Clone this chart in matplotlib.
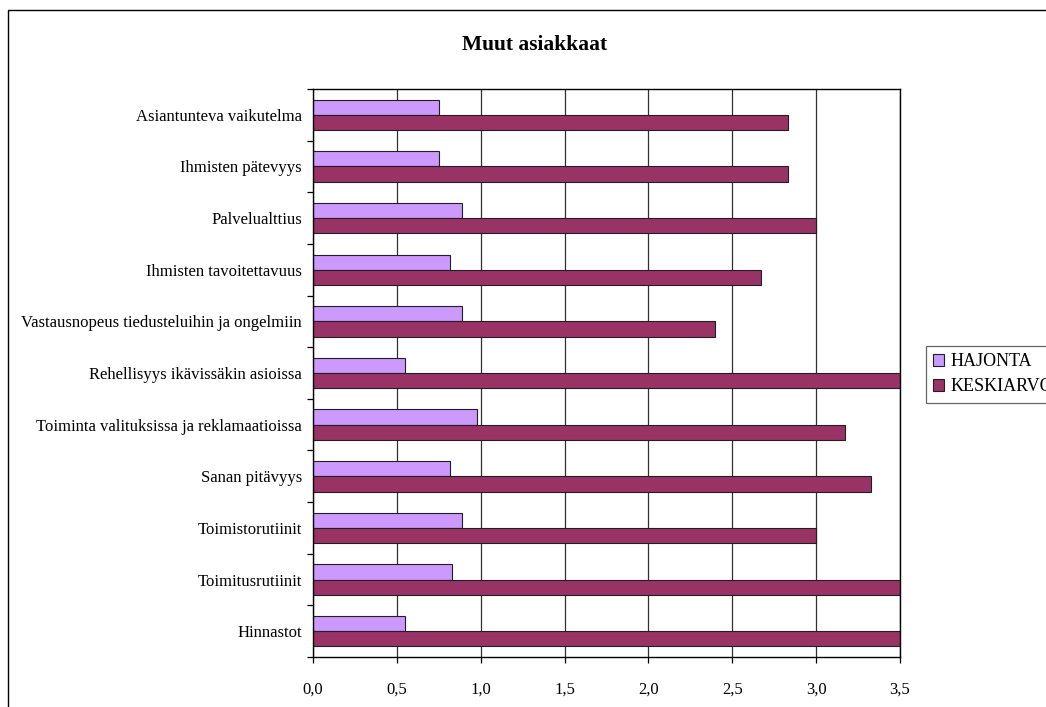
import numpy as np
import matplotlib.pyplot as plt
from matplotlib.patches import Rectangle

plt.rcParams['font.family'] = ['Liberation Serif', 'DejaVu Serif']

categories = ['Asiantunteva vaikutelma', 'Ihmisten pätevyys', 'Palvelualttius',
              'Ihmisten tavoitettavuus', 'Vastausnopeus tiedusteluihin ja ongelmiin',
              'Rehellisyys ikävissäkin asioissa', 'Toiminta valituksissa ja reklamaatioissa',
              'Sanan pitävyys', 'Toimistorutiinit', 'Toimitusrutiinit', 'Hinnastot']
hajonta = [0.75, 0.75, 0.89, 0.82, 0.89, 0.55, 0.98, 0.82, 0.89, 0.83, 0.55]
keskiarvo = [2.83, 2.83, 3.00, 2.67, 2.40, 3.67, 3.17, 3.33, 3.00, 3.67, 3.67]
xticks = [0.0, 0.5, 1.0, 1.5, 2.0, 2.5, 3.0, 3.5]

fig = plt.figure(figsize=(10.46, 7.07), dpi=100)
ax = fig.add_axes([0.2992, 0.0707, 0.5612, 0.8034])

y = np.arange(len(categories))
h = 0.295
ax.barh(y - h/2, hajonta, height=h, color='#CC99FF', edgecolor='#202020',
        linewidth=0.8, label='HAJONTA', zorder=3)
ax.barh(y + h/2, keskiarvo, height=h, color='#993366', edgecolor='#202020',
        linewidth=0.8, label='KESKIARVO', zorder=3)

ax.set_xlim(0, 3.5)
ax.set_ylim(len(categories) - 0.5, -0.5)
ax.set_xticks(xticks)
ax.set_xticklabels([f'{v:.1f}'.replace('.', ',') for v in xticks], fontsize=12)
ax.set_yticks(y)
ax.set_yticklabels(categories, fontsize=12)
ax.set_yticks(np.arange(len(categories) + 1) - 0.5, minor=True)
ax.tick_params(axis='y', which='major', length=0, pad=8)
ax.tick_params(axis='y', which='minor', length=4.5, width=0.9, direction='out')
ax.tick_params(axis='x', length=4.5, width=0.9, direction='out', pad=13)
ax.xaxis.grid(True, color='#303030', linewidth=0.9, zorder=0)
ax.set_axisbelow(True)
for s in ax.spines.values():
    s.set_linewidth(1.0)
    s.set_color('black')
    s.set_zorder(4)

fig.text(535/1046, 1 - 45/707, 'Muut asiakkaat', ha='center', va='center',
         fontsize=15.5, fontweight='bold')

# outer chart border
fig.patches.append(Rectangle((0.0076, -0.05), 1.1, 0.05 + 0.9859, transform=fig.transFigure,
                             fill=False, edgecolor='black', linewidth=1.0))

leg = fig.legend(loc='upper left', bbox_to_anchor=(926/1046, 1 - 346/707),
                 fontsize=13, frameon=True, fancybox=False, edgecolor='#404040',
                 handlelength=0.6, handleheight=0.6, handletextpad=0.35,
                 borderpad=0.4, labelspacing=0.45, borderaxespad=0)
leg.get_frame().set_linewidth(0.9)

fig.savefig('out.png', dpi=100)
